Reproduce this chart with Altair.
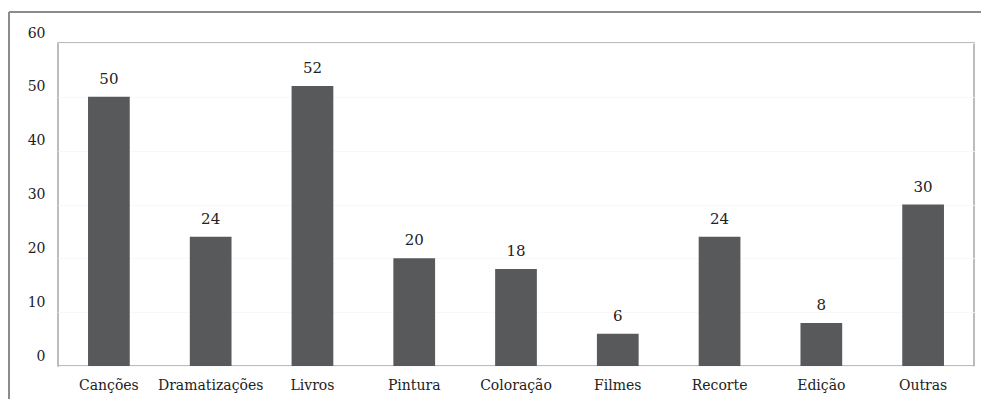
import altair as alt
import pandas as pd

categories = ["Canções", "Dramatizações", "Livros", "Pintura", "Coloração", "Filmes", "Recorte", "Edição", "Outras"]
values = [50, 24, 52, 20, 18, 6, 24, 8, 30]

df = pd.DataFrame({"cat": categories, "val": values})
FONT = "DejaVu Serif"

base = alt.Chart(df)

bars = base.mark_bar(color="#58595b").encode(
    x=alt.X("cat:N", sort=categories, title=None,
            scale=alt.Scale(paddingInner=0.59, paddingOuter=0.295),
            axis=alt.Axis(labelAngle=0, labelFont=FONT, labelFontSize=14, labelColor="#222",
                          labelPadding=12, ticks=False, domain=False, grid=False)),
    y=alt.Y("val:Q", title=None, scale=alt.Scale(domain=[0, 60]),
            axis=alt.Axis(values=[0, 10, 20, 30, 40, 50, 60], labelFont=FONT, labelFontSize=14,
                          labelColor="#222", labelPadding=13, labelOffset=-10, ticks=False,
                          domain=False, grid=True, gridColor="#f8f8f8"))
)

text = base.mark_text(font=FONT, fontSize=15, color="#222", baseline="bottom", dy=-10).encode(
    x=alt.X("cat:N", sort=categories),
    y=alt.Y("val:Q"),
    text="val:Q"
)

frame_top = alt.Chart(df).mark_rule(color="#8c8c8c", strokeWidth=1.5, clip=False).encode(
    x=alt.value(-49), x2=alt.value(930), y=alt.value(-31)
)
frame_left = alt.Chart(df).mark_rule(color="#8c8c8c", strokeWidth=1.5, clip=False).encode(
    x=alt.value(-49), y=alt.value(-31), y2=alt.value(360)
)

chart = alt.layer(bars, text, frame_top, frame_left).properties(
    width=916, height=323,
    autosize=alt.AutoSizeParams(type="none"),
    padding={"left": 58, "top": 43, "right": 7, "bottom": 33},
    background="white"
).configure_view(stroke="#a6a6a6", strokeWidth=1.5)

chart.save("out.html", embed_options={"renderer": "svg", "actions": False})
